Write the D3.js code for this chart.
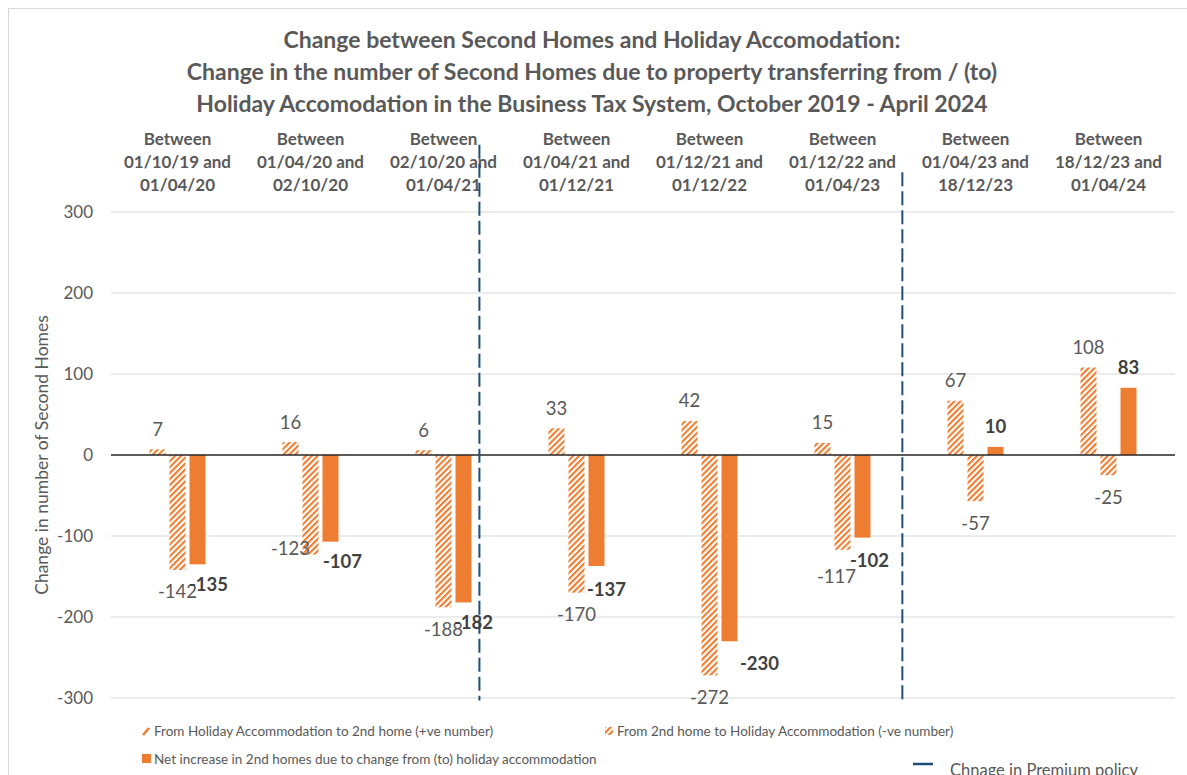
<!DOCTYPE html>
<html>
<head>
<meta charset="utf-8">
<script src="https://cdn.jsdelivr.net/npm/d3@7"></script>
<style>
   body { margin: 0; background: #fff; }
   svg { display: block; font-family: Lato, "Open Sans", sans-serif; }
</style>
</head>
<body>
<div id="chart"></div>
<script>
const titleLines = [
   "Change between Second Homes and Holiday Accomodation:",
   "Change in the number of Second Homes due to property transferring from / (to)",
   "Holiday Accomodation in the Business Tax System, October 2019 - April 2024"
]
const categories = [
   ["Between", "01/10/19 and", "01/04/20"],
   ["Between", "01/04/20 and", "02/10/20"],
   ["Between", "02/10/20 and", "01/04/21"],
   ["Between", "01/04/21 and", "01/12/21"],
   ["Between", "01/12/21 and", "01/12/22"],
   ["Between", "01/12/22 and", "01/04/23"],
   ["Between", "01/04/23 and", "18/12/23"],
   ["Between", "18/12/23 and", "01/04/24"]
]
const toSecondHome = [7, 16, 6, 33, 42, 15, 67, 108]
const toHoliday = [-142, -123, -188, -170, -272, -117, -57, -25]
const netChange = [-135, -107, -182, -137, -230, -102, 10, 83]
const yTicks = [-300, -200, -100, 0, 100, 200, 300]
// policy change markers, in category units along x and value units for top
const policyLineX = [2.77, 5.95]
const policyLineTop = [383, 349]
const policyLineBottom = -303
const seriesNames = [
   "From Holiday Accommodation to 2nd home (+ve number)",
   "From 2nd home to Holiday Accommodation (-ve number)",
   "Net increase in 2nd homes due to change from (to) holiday accommodation"
]
const policyName = "Chnage in Premium policy"

// hand nudges of a few data labels, as in the original
const negLabelNudge = [[0,0],[-20,-28],[0,0],[0,0],[0,0],[-6,5],[0,0],[0,0]]
const netLabelNudge = [[11,0],[12,0],[10,0],[10,4],[30,2],[7,3],[0,0],[0,0]]

const orange = "#ED7D31"
const grey = "#595959"
const navy = "#1F4E79"

const width = 1187, height = 775
const plot = {left: 111, right: 1175, top: 212, bottom: 698}

const svg = d3.select("#chart").append("svg")
   .attr("width", width)
   .attr("height", height)

const defs = svg.append("defs")
const hatch = defs.append("pattern")
   .attr("id", "hatch")
   .attr("patternUnits", "userSpaceOnUse")
   .attr("width", 4.2)
   .attr("height", 10)
   .attr("patternTransform", "rotate(45)")
hatch.append("rect").attr("width", 4.2).attr("height", 10).attr("fill", "#fff")
hatch.append("rect").attr("width", 2.1).attr("height", 10).attr("fill", orange)

// outer chart border
svg.append("rect")
   .attr("x", 8.5).attr("y", 8.5)
   .attr("width", width + 10).attr("height", height + 10)
   .attr("fill", "none").attr("stroke", "#d9d9d9")

const x = d3.scaleBand()
   .domain(d3.range(categories.length))
   .range([plot.left, plot.right])
const xLin = d3.scaleLinear().domain([0, categories.length]).range([plot.left, plot.right])
const sub = d3.scaleBand()
   .domain(["pos", "neg", "net"])
   .range([-30, 30])
   .paddingInner(0.2)
   .paddingOuter(0.1)
const y = d3.scaleLinear().domain([-300, 300]).range([plot.bottom, plot.top])

// title
svg.append("g").selectAll("text")
   .data(titleLines)
   .join("text")
   .attr("x", 592)
   .attr("y", (d, i) => 48 + i * 32)
   .attr("text-anchor", "middle")
   .attr("font-size", 23)
   .attr("font-weight", "bold")
   .attr("fill", grey)
   .text(d => d)

// category labels on top
const catG = svg.append("g")
categories.forEach((lines, i) => {
   catG.append("g").selectAll("text")
      .data(lines)
      .join("text")
      .attr("x", x(i) + x.bandwidth() / 2)
      .attr("y", (d, j) => 145 + j * 23)
      .attr("text-anchor", "middle")
      .attr("font-size", 17)
      .attr("font-weight", "bold")
      .attr("fill", grey)
      .text(d => d)
})

// gridlines + y axis
const yAxis = d3.axisLeft(y).tickValues(yTicks).tickSize(0).tickPadding(18).tickFormat(d => String(d))
const axG = svg.append("g")
   .attr("transform", `translate(${plot.left},0)`)
   .call(yAxis)
axG.select(".domain").remove()
axG.selectAll("text").attr("font-size", 17).attr("fill", grey).attr("font-family", "Lato, sans-serif")

svg.append("g").selectAll("line")
   .data(yTicks.filter(t => t != 0))
   .join("line")
   .attr("x1", plot.left).attr("x2", plot.right)
   .attr("y1", d => y(d)).attr("y2", d => y(d))
   .attr("stroke", "#d9d9d9").attr("stroke-width", 1)

svg.append("text")
   .attr("transform", `translate(48,${y(0)}) rotate(-90)`)
   .attr("text-anchor", "middle")
   .attr("font-size", 17.5)
   .attr("fill", grey)
   .text("Change in number of Second Homes")

// bars
const barG = svg.append("g")
const series = [
   {key: "pos", values: toSecondHome, fill: "url(#hatch)"},
   {key: "neg", values: toHoliday, fill: "url(#hatch)"},
   {key: "net", values: netChange, fill: orange}
]
series.forEach(s => {
   barG.append("g").selectAll("rect")
      .data(s.values)
      .join("rect")
      .attr("x", (d, i) => x(i) + x.bandwidth() / 2 + sub(s.key))
      .attr("width", sub.bandwidth())
      .attr("y", d => y(Math.max(0, d)))
      .attr("height", d => Math.abs(y(d) - y(0)))
      .attr("fill", s.fill)
})

// zero line
svg.append("line")
   .attr("x1", plot.left).attr("x2", plot.right)
   .attr("y1", y(0)).attr("y2", y(0))
   .attr("stroke", "#262626").attr("stroke-width", 1.6)

// policy lines
svg.append("g").selectAll("line")
   .data(policyLineX)
   .join("line")
   .attr("x1", d => xLin(d)).attr("x2", d => xLin(d))
   .attr("y1", (d, i) => y(policyLineTop[i]))
   .attr("y2", y(policyLineBottom))
   .attr("stroke", navy)
   .attr("stroke-width", 2)
   .attr("stroke-dasharray", "14,5")

// data labels
const labelG = svg.append("g").attr("font-size", 18.5)
const cx = (i, key) => x(i) + x.bandwidth() / 2 + sub(key) + sub.bandwidth() / 2
labelG.append("g").selectAll("text")
   .data(toSecondHome)
   .join("text")
   .attr("x", (d, i) => cx(i, "pos"))
   .attr("y", d => y(d) - 20)
   .attr("dy", "0.35em")
   .attr("text-anchor", "middle")
   .attr("fill", grey)
   .text(d => d)
labelG.append("g").selectAll("text")
   .data(toHoliday)
   .join("text")
   .attr("x", (d, i) => cx(i, "neg") + negLabelNudge[i][0])
   .attr("y", (d, i) => y(d) + 22 + negLabelNudge[i][1])
   .attr("dy", "0.35em")
   .attr("text-anchor", "middle")
   .attr("fill", grey)
   .text(d => d)
labelG.append("g").selectAll("text")
   .data(netChange)
   .join("text")
   .attr("x", (d, i) => cx(i, "net") + netLabelNudge[i][0])
   .attr("y", (d, i) => y(d) + (d < 0 ? 20 : -20) + netLabelNudge[i][1])
   .attr("dy", "0.35em")
   .attr("text-anchor", "middle")
   .attr("font-weight", "bold")
   .attr("fill", "#404040")
   .text(d => d)

// legend
const leg = svg.append("g").attr("font-size", 13.5).attr("fill", grey)
leg.append("line")
   .attr("x1", 143).attr("y1", 735).attr("x2", 149).attr("y2", 728)
   .attr("stroke", orange).attr("stroke-width", 2.5)
leg.append("text").attr("x", 154).attr("y", 731).attr("dy", "0.35em").text(seriesNames[0])
leg.append("rect")
   .attr("x", 605).attr("y", 727).attr("width", 8).attr("height", 8)
   .attr("fill", "url(#hatch)")
leg.append("text").attr("x", 617).attr("y", 731).attr("dy", "0.35em").text(seriesNames[1])
leg.append("rect")
   .attr("x", 142).attr("y", 754).attr("width", 9).attr("height", 9)
   .attr("fill", orange)
leg.append("text").attr("x", 154).attr("y", 759).attr("dy", "0.35em").text(seriesNames[2])
leg.append("line")
   .attr("x1", 913).attr("x2", 933).attr("y1", 764).attr("y2", 764)
   .attr("stroke", navy).attr("stroke-width", 2.5)
leg.append("text").attr("x", 950).attr("y", 776)
   .attr("font-size", 16.5).text(policyName)
</script>
</body>
</html>
